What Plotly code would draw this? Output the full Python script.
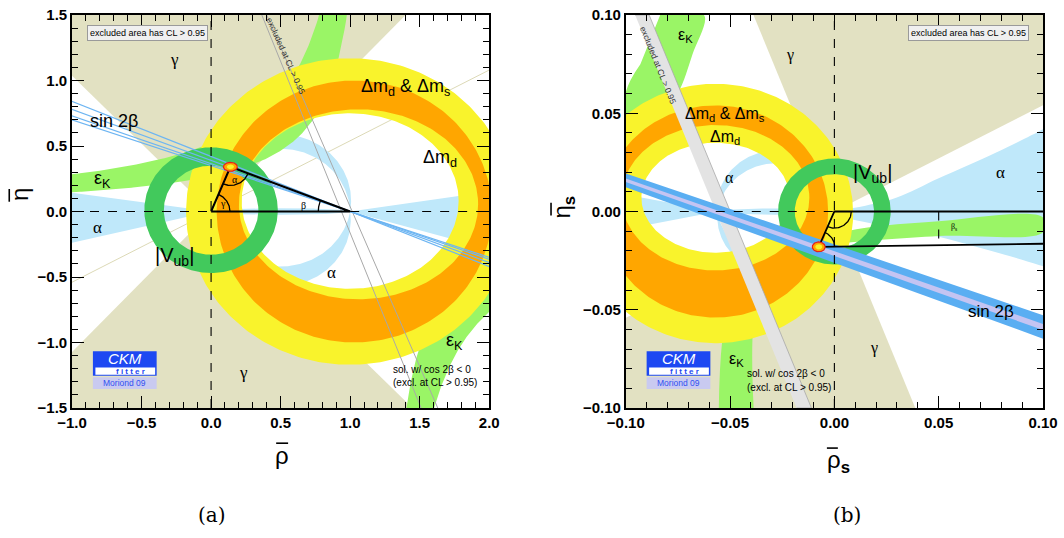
import numpy as np
import plotly.graph_objects as go

# ---------------- colours ----------------
TAN = "#e2e1c2"
LBLUE = "#bfe8fa"
LGREEN = "#9af566"
DGREEN = "#42c95c"
YELLOW = "#f9f32c"
ORANGE = "#ffa600"
SBLUE = "#5aaef2"
LAVENDER = "#c4c4f2"
GRAYBAND = "#e3e3e3"

# ================= panel (a): rho-bar / eta-bar =================
apex_a = [0.139, 0.341]
gamma_a_deg = [47.0, 134.0]                 # gamma wedge edges (upper wedge, mirrored below)
alpha_a_base = [0.0, 1.0]                   # alpha arcs pass through these points on the axis
alpha_a_k_upper = [-0.021, 0.083]           # centre heights of the circles bounding the upper arc
alpha_a_k_lower = [-0.0876, 0.0657]         # same for the lower arc (mirrored)
alpha_a_left_eta = [0.15, -0.25]            # alpha wedge left of origin, at rho = -1
alpha_a_right_eta = [0.16, -0.30]           # alpha wedge right of (1,0), at rho = 2
alpha_a_lens = 0.025                        # half thickness of the alpha lens on the axis
epsk_a_c = 1.19                             # eps_K hyperbola  eta*(c - rho) = k
epsk_a_k = [0.32, 0.62]
# Delta m rings: (centre rho, centre eta, semi-axis rho, semi-axis eta)
dm_yellow_a = [[1.0, 0.0, 1.18, 1.17], [1.0, 0.08, 0.78, 0.67]]
dm_orange_a = [[1.03, 0.0, 0.99, 1.0], [1.06, 0.055, 0.86, 0.725]]
vub_a = [0.0, 0.01, 0.34, 0.48]             # centre, inner radius, outer radius
sin2b_a_slopes = [-0.42, -0.39, -0.365, -0.35]
excl_a_top = [0.365, 0.40]                  # rho at eta = 1.5
excl_a_bottom = [1.51, 1.63]                # rho at eta = -1.5
gamma_a_line_slope = 0.54

# ================= panel (b): rho-bar_s / eta-bar_s =================
apex_b = [-0.0075, -0.018]
apex_b_line_end = [0.1, -0.0164]
beta_s_mark = 0.05
gamma_b_deg = [28.4, 111.2]
alpha_b_base = [-0.056, 0.0]
alpha_b_k = [-0.00375, 0.00285]
alpha_b_left_eta = [0.0095, -0.010]         # at rho = -0.1
alpha_b_lens = 0.0016
alpha_b_upper_rho = [0.0, 0.0105, 0.0296, 0.05, 0.0773, 0.1]
alpha_b_upper_eta = [0.0, 0.002, 0.007, 0.0169, 0.0299, 0.0418]
alpha_b_lower_rho = [0.0, 0.001, 0.05, 0.1]
alpha_b_lower_eta = [0.0, -0.0015, -0.0129, -0.0279]
dm_yellow_b = [[-0.057, -0.001, 0.066, 0.066], [-0.057, 0.007, 0.0355, 0.028]]
dm_orange_b = [[-0.057, 0.0, 0.054, 0.054], [-0.057, 0.007, 0.045, 0.037]]
vub_b = [0.0, 0.0, 0.019, 0.027]
sin2b_b_upper = [[-0.1, 0.0194], [0.1, -0.0528]]
sin2b_b_lower = [[-0.1, 0.0124], [0.1, -0.0647]]
sin2b_b_core_upper = [[-0.1, 0.0168], [0.1, -0.0572]]
sin2b_b_core_lower = [[-0.1, 0.0150], [0.1, -0.0603]]
excl_b_top = [-0.0955, -0.0888]             # rho at eta = 0.1
excl_b_bottom = [-0.0181, -0.011]           # rho at eta = -0.1
epsk_b_upper_rho = [-0.0835, -0.0625, -0.068, -0.075, -0.085, -0.1, -0.1, -0.093]
epsk_b_upper_eta = [0.1, 0.1, 0.08, 0.06, 0.045, 0.033, 0.0607, 0.075]
epsk_b_lower_rho = [-0.0554, -0.050, -0.0372, -0.0215, -0.0086, 0.0, 0.05, 0.1,
                    0.1, 0.05, 0.0, -0.018, -0.029, -0.0372, -0.0387]
epsk_b_lower_eta = [-0.1, -0.0463, -0.0299, -0.0214, -0.0179, -0.0165, -0.0125, -0.0105,
                    -0.003, -0.005, -0.012, -0.0249, -0.033, -0.0463, -0.1]

# pixel scale of each panel (px per data unit), used for angle arcs only
SCALE_A = (139.7, 134.0)
SCALE_B = (2095.0, 2010.0)

fig = go.Figure()
AX = {"a": dict(xaxis="x", yaxis="y"), "b": dict(xaxis="x2", yaxis="y2")}


def poly(xs, ys, color, panel, lw=0, lcolor=None, shape="linear"):
    fig.add_trace(go.Scatter(x=list(xs), y=list(ys), mode="lines", fill="toself",
                             fillcolor=color,
                             line=dict(width=lw, color=lcolor or color, shape=shape),
                             hoverinfo="skip", showlegend=False, **AX[panel]))


def line(xs, ys, color, panel, width=1.0, dash=None):
    fig.add_trace(go.Scatter(x=list(xs), y=list(ys), mode="lines",
                             line=dict(width=width, color=color, dash=dash),
                             hoverinfo="skip", showlegend=False, **AX[panel]))


def ell(cx, cy, rx, ry, t0=0.0, t1=2 * np.pi, n=300):
    t = np.linspace(t0, t1, n)
    return cx + rx * np.cos(t), cy + ry * np.sin(t)


def ring(outer, inner):
    ox, oy = ell(*outer)
    ix, iy = ell(*inner)
    return np.concatenate([ox, ix[::-1]]), np.concatenate([oy, iy[::-1]])


def wedge(x0, y0, a0, a1, R):
    t = np.radians(np.linspace(a0, a1, 60))
    return np.concatenate([[x0], x0 + R * np.cos(t), [x0]]), np.concatenate([[y0], y0 + R * np.sin(t), [y0]])


def circ_arc(b0, b1, k, n=200):
    # upper arc of the circle through (b0,0),(b1,0) whose centre sits at height k
    h = 0.5 * (b1 - b0)
    m = 0.5 * (b0 + b1)
    r = np.hypot(h, k)
    a = np.arctan2(k, h)
    t = np.linspace(-a, np.pi + a, n)
    return m + r * np.cos(t), k + r * np.sin(t)


def crescent(b0, b1, k_in, k_out, panel, color, sign=1):
    ox, oy = circ_arc(b0, b1, k_out)
    ix, iy = circ_arc(b0, b1, k_in)
    xs = np.concatenate([ox, ix[::-1]])
    ys = np.concatenate([oy, iy[::-1]])
    poly(xs, sign * ys, color, panel)


def angle_arc(x0, y0, a0, a1, rpx, scale, panel):
    t = np.radians(np.linspace(a0, a1, 60))
    line(x0 + rpx / scale[0] * np.cos(t), y0 + rpx / scale[1] * np.sin(t), "black", panel, 1.3)


def pix_angle(dx, dy, scale):
    return np.degrees(np.arctan2(dy * scale[1], dx * scale[0]))


# ---------------- panel (a) ----------------
# gamma: double wedge through the origin
xs, ys = wedge(0, 0, gamma_a_deg[0], gamma_a_deg[1], 6)
poly(xs, ys, TAN, "a")
poly(-xs, -ys, TAN, "a")
line([-1.2, 2.2], [-1.2 * gamma_a_line_slope, 2.2 * gamma_a_line_slope], "#d8d5ae", "a", 0.9)

# alpha
crescent(alpha_a_base[0], alpha_a_base[1], alpha_a_k_upper[0], alpha_a_k_upper[1], "a", LBLUE, 1)
crescent(alpha_a_base[0], alpha_a_base[1], alpha_a_k_lower[0], alpha_a_k_lower[1], "a", LBLUE, -1)
poly([0, -1.05, -1.05, 0], [0, alpha_a_left_eta[0], alpha_a_left_eta[1], 0], LBLUE, "a")
poly([1, 2.05, 2.05, 1], [0, alpha_a_right_eta[0], alpha_a_right_eta[1], 0], LBLUE, "a")
lx, ly = ell(0.5, 0, 0.5, alpha_a_lens)
poly(lx, ly, LBLUE, "a")

# eps_K hyperbolic band
c = epsk_a_c
k1, k2 = epsk_a_k
r_hi = np.linspace(-1.1, c - k2 / 1.7, 200)
r_lo = np.linspace(-1.1, c - k1 / 1.7, 200)
poly(np.concatenate([r_hi, r_lo[::-1]]),
     np.concatenate([k2 / (c - r_hi), (k1 / (c - r_lo))[::-1]]), LGREEN, "a")
r_hi = np.linspace(c + k2 / 1.7, 2.1, 200)
r_lo = np.linspace(c + k1 / 1.7, 2.1, 200)
poly(np.concatenate([r_hi, r_lo[::-1]]),
     np.concatenate([-k2 / (r_hi - c), (-k1 / (r_lo - c))[::-1]]), LGREEN, "a")

# Delta m_d and Delta m_d & Delta m_s rings
xs, ys = ring(dm_yellow_a[0], dm_yellow_a[1])
poly(xs, ys, YELLOW, "a")
xs, ys = ring(dm_orange_a[0], dm_orange_a[1])
poly(xs, ys, ORANGE, "a")

# |V_ub| ring
xs, ys = ring([vub_a[0], vub_a[1], vub_a[3], vub_a[3]], [vub_a[0], vub_a[1], vub_a[2], vub_a[2]])
poly(xs, ys, DGREEN, "a")

# cos 2beta < 0 solution (grey lines)
for t, b in zip(excl_a_top, excl_a_bottom):
    line([t, b], [1.5, -1.5], "#a8a8a8", "a", 1.0)

# sin 2beta lines through (1,0)
for m in sin2b_a_slopes:
    line([-1.1, 2.1], [m * (-2.1), m * 1.1], "#6db5f2", "a", 1.2)

# axes references
line([0, 0], [-1.5, 1.5], "black", "a", 1.1, "dash")
line([-1, 0], [0, 0], "black", "a", 1.1, "dash")
line([1, 2], [0, 0], "black", "a", 1.1, "dash")

# unitarity triangle
line([0, 1, apex_a[0], 0], [0, 0, apex_a[1], 0], "black", "a", 2.0)
ga = pix_angle(apex_a[0], apex_a[1], SCALE_A)
angle_arc(0, 0, 0, ga, 19, SCALE_A, "a")
a_to_o = pix_angle(-apex_a[0], -apex_a[1], SCALE_A)
a_to_1 = pix_angle(1 - apex_a[0], -apex_a[1], SCALE_A)
angle_arc(apex_a[0], apex_a[1], a_to_o, a_to_1, 19, SCALE_A, "a")
b_to_a = pix_angle(apex_a[0] - 1, apex_a[1], SCALE_A)
angle_arc(1, 0, b_to_a, 180, 32, SCALE_A, "a")
xs, ys = ell(apex_a[0], apex_a[1], 0.05, 0.034)
poly(xs, ys, ORANGE, "a", lw=1.2, lcolor="#e8201a")
xs, ys = ell(apex_a[0], apex_a[1], 0.026, 0.018)
poly(xs, ys, YELLOW, "a")

# ---------------- panel (b) ----------------
xs, ys = wedge(0, 0, gamma_b_deg[0], gamma_b_deg[1], 0.4)
poly(xs, ys, TAN, "b")
poly(-xs, -ys, TAN, "b")

crescent(alpha_b_base[0], alpha_b_base[1], alpha_b_k[0], alpha_b_k[1], "b", LBLUE, 1)
crescent(alpha_b_base[0], alpha_b_base[1], alpha_b_k[0], alpha_b_k[1], "b", LBLUE, -1)
poly([alpha_b_base[0], -0.105, -0.105, alpha_b_base[0]],
     [0, alpha_b_left_eta[0], alpha_b_left_eta[1], 0], LBLUE, "b")
lx, ly = ell(0.5 * alpha_b_base[0], 0, -0.5 * alpha_b_base[0], alpha_b_lens)
poly(lx, ly, LBLUE, "b")
poly(alpha_b_upper_rho + [0.105, 0.105] + alpha_b_lower_rho[::-1],
     alpha_b_upper_eta + [0.045, -0.03] + alpha_b_lower_eta[::-1], LBLUE, "b", shape="spline")

poly(epsk_b_upper_rho, epsk_b_upper_eta, LGREEN, "b", shape="spline")
poly(epsk_b_lower_rho, epsk_b_lower_eta, LGREEN, "b", shape="spline")

xs, ys = ring(dm_yellow_b[0], dm_yellow_b[1])
poly(xs, ys, YELLOW, "b")
xs, ys = ring(dm_orange_b[0], dm_orange_b[1])
poly(xs, ys, ORANGE, "b")

poly([excl_b_top[0], excl_b_top[1], excl_b_bottom[1], excl_b_bottom[0]],
     [0.1, 0.1, -0.1, -0.1], GRAYBAND, "b", lw=0.8, lcolor="#a8a8a8")

xs, ys = ring([vub_b[0], vub_b[1], vub_b[3], vub_b[3]], [vub_b[0], vub_b[1], vub_b[2], vub_b[2]])
poly(xs, ys, DGREEN, "b")

u, l = sin2b_b_upper, sin2b_b_lower
poly([u[0][0], u[1][0], l[1][0], l[0][0]], [u[0][1], u[1][1], l[1][1], l[0][1]], SBLUE, "b")
u, l = sin2b_b_core_upper, sin2b_b_core_lower
poly([u[0][0], u[1][0], l[1][0], l[0][0]], [u[0][1], u[1][1], l[1][1], l[0][1]], LAVENDER, "b")

line([0, 0], [-0.1, 0.1], "black", "b", 1.1, "dash")
line([-0.1, 0], [0, 0], "black", "b", 1.1, "dash")
line([beta_s_mark, beta_s_mark], [0, apex_b[1] + (apex_b_line_end[1] - apex_b[1]) *
                                  (beta_s_mark - apex_b[0]) / (apex_b_line_end[0] - apex_b[0])],
     "black", "b", 1.1, "dash")
line([0.1, 0, apex_b[0], apex_b_line_end[0]], [0, 0, apex_b[1], apex_b_line_end[1]], "black", "b", 1.8)
o_to_a = pix_angle(apex_b[0], apex_b[1], SCALE_B)
angle_arc(0, 0, o_to_a, 0, 17, SCALE_B, "b")
a_to_o = pix_angle(-apex_b[0], -apex_b[1], SCALE_B)
a_to_e = pix_angle(apex_b_line_end[0] - apex_b[0], apex_b_line_end[1] - apex_b[1], SCALE_B)
angle_arc(apex_b[0], apex_b[1], a_to_e, a_to_o, 16, SCALE_B, "b")
xs, ys = ell(apex_b[0], apex_b[1], 0.0031, 0.0025)
poly(xs, ys, ORANGE, "b", lw=1.2, lcolor="#e8201a")
xs, ys = ell(apex_b[0], apex_b[1], 0.0017, 0.0014)
poly(xs, ys, YELLOW, "b")

# ---------------- text ----------------
SANS = "Liberation Sans"
SERIF = "Liberation Serif"
ann = []


def txt(panel, x, y, s, size, family=SANS, color="black", **kw):
    xr, yr = ("x", "y") if panel == "a" else ("x2", "y2")
    d = dict(x=x, y=y, xref=xr, yref=yr, text=s, showarrow=False,
             xanchor="center", yanchor="middle",
             font=dict(family=family, size=size, color=color))
    d.update(kw)
    ann.append(d)


box = dict(bordercolor="#9a9a9a", borderwidth=1, bgcolor="#f0f0f0", borderpad=2)
txt("a", -0.455, 1.362, "excluded area has CL &gt; 0.95", 9, **box)
txt("b", 0.0642, 0.091, "excluded area has CL &gt; 0.95", 9, **box)

txt("a", -0.265, 1.16, "γ", 17, SERIF)
txt("a", 0.236, -1.23, "γ", 17, SERIF)
txt("a", -0.70, 0.69, "sin 2β", 18)
txt("a", -0.78, 0.245, "ε<sub>K</sub>", 18)
txt("a", 1.75, -0.99, "ε<sub>K</sub>", 18)
txt("a", -0.816, -0.12, "α", 17, SERIF)
txt("a", 0.866, -0.463, "α", 17, SERIF)
txt("a", -0.265, -0.343, "|V<sub>ub</sub>|", 20)
txt("a", 1.396, 0.95, "Δm<sub>d</sub> &amp; Δm<sub>s</sub>", 18)
txt("a", 1.646, 0.405, "Δm<sub>d</sub>", 18)
txt("a", 0.172, 0.246, "α", 10, SERIF)
txt("a", 0.086, 0.062, "γ", 10, SERIF)
txt("a", 0.666, 0.048, "β", 10, SERIF)
txt("a", 1.296, -1.209, "sol. w/ cos 2β &lt; 0", 10, xanchor="left")
txt("a", 1.296, -1.306, "(excl. at CL &gt; 0.95)", 10, xanchor="left")
txt("a", 0.54, 1.19, "excluded at CL &gt; 0.95", 8.5, color="#333333", textangle=66)

txt("b", -0.0716, 0.0896, "ε<sub>K</sub>", 16)
txt("b", -0.0468, -0.0751, "ε<sub>K</sub>", 16)
txt("b", -0.0215, 0.0796, "γ", 16, SERIF)
txt("b", 0.0191, -0.0697, "γ", 16, SERIF)
txt("b", -0.0525, 0.0493, "Δm<sub>d</sub> &amp; Δm<sub>s</sub>", 16)
txt("b", -0.0525, 0.0378, "Δm<sub>d</sub>", 16)
txt("b", -0.0501, 0.0174, "α", 16, SERIF)
txt("b", 0.0797, 0.0199, "α", 17, SERIF)
txt("b", 0.0181, 0.0194, "|V<sub>ub</sub>|", 20)
txt("b", 0.0573, -0.0078, "β<sub>s</sub>", 8, SERIF)
txt("b", 0.075, -0.0507, "sin 2β", 17)
txt("b", -0.043, -0.0826, "sol. w/ cos 2β &lt; 0", 10, xanchor="left")
txt("b", -0.043, -0.0896, "(excl. at CL &gt; 0.95)", 10, xanchor="left")
txt("b", -0.0845, 0.0746, "excluded at CL &gt; 0.95", 8.5, color="#333333", textangle=68)


# paper coordinates from window pixels (plot area spans x 72..1047, y 6..408)
def px(xp, yp):
    return (xp - 72) / 975.0, (408 - yp) / 402.0


def ptxt(xp, yp, s, size, family=SANS, color="black", **kw):
    x, y = px(xp, yp)
    d = dict(x=x, y=y, xref="paper", yref="paper", text=s, showarrow=False,
             xanchor="center", yanchor="middle",
             font=dict(family=family, size=size, color=color))
    d.update(kw)
    ann.append(d)


shapes = []


def pbar(x0, y0, x1, y1):
    a0, b0 = px(x0, y0)
    a1, b1 = px(x1, y1)
    shapes.append(dict(type="line", xref="paper", yref="paper", x0=a0, y0=b0, x1=a1, y1=b1,
                       line=dict(width=1.6, color="black")))


def prect(x0, y0, x1, y1, fill, lc=None):
    a0, b0 = px(x0, y0)
    a1, b1 = px(x1, y1)
    shapes.append(dict(type="rect", xref="paper", yref="paper", x0=a0, y0=b0, x1=a1, y1=b1,
                       fillcolor=fill, line=dict(width=1 if lc else 0, color=lc or fill)))


# axis titles with overbars
ptxt(283, 457, "ρ", 24)
pbar(277, 444, 289, 444)
ptxt(20, 190, "η", 24, textangle=-90)
pbar(9, 184, 9, 197)
ptxt(842, 463, "ρ<sub><b>s</b></sub>", 24)
pbar(830, 449, 841, 449)
ptxt(566, 202, "η<sub><b>s</b></sub>", 24, textangle=-90)
pbar(553, 198, 553, 211)
ptxt(213, 517, "(a)", 20, "DejaVu Serif")
ptxt(850, 517, "(b)", 20, "DejaVu Serif")


def logo(x0):
    prect(x0, 350, x0 + 64, 375, "#1d48f2")
    prect(x0 + 2.5, 366.5, x0 + 62.5, 374, "white")
    prect(x0, 376.5, x0 + 64, 388.5, "#c9caf0")
    ptxt(x0 + 32, 357.5, "<i>CKM</i>", 15, color="white")
    ptxt(x0 + 38, 370.5, "<b>f i t t e r</b>", 8, color="#1d48f2")
    ptxt(x0 + 32, 382.5, "Moriond 09", 8.5, color="#3050f0")


logo(93)
logo(649)

TICKFONT = dict(family=SANS, size=15, color="black", weight="bold")


def axis(domain, rng, dtick, fmt, minor_step, anchor):
    return dict(domain=domain, range=rng, anchor=anchor, showgrid=False, zeroline=False,
                showline=True, linecolor="black", linewidth=1.6, mirror="ticks",
                ticks="inside", ticklen=12, tickwidth=1.4, tickcolor="black",
                tickmode="linear", tick0=0, dtick=dtick, tickformat=fmt, tickfont=TICKFONT,
                ticklabeloverflow="allow",
                minor=dict(ticks="inside", ticklen=6, tickwidth=1.2, tickcolor="black",
                           tickmode="linear", tick0=0, dtick=minor_step))


fig.update_layout(
    width=1064, height=538,
    margin=dict(l=72, r=17, t=6, b=130),
    paper_bgcolor="white", plot_bgcolor="white",
    showlegend=False,
    xaxis=axis([0, 0.4297], [-1, 2], 0.5, ".1f", 0.1, "y"),
    yaxis=axis([0, 1], [-1.5, 1.5], 0.5, ".1f", 0.1, "x"),
    xaxis2=axis([0.5703, 1], [-0.1, 0.1], 0.05, ".2f", 0.01, "y2"),
    yaxis2=axis([0, 1], [-0.1, 0.1], 0.05, ".2f", 0.01, "x2"),
    annotations=ann,
    shapes=shapes,
)

fig.write_html("out.html")
